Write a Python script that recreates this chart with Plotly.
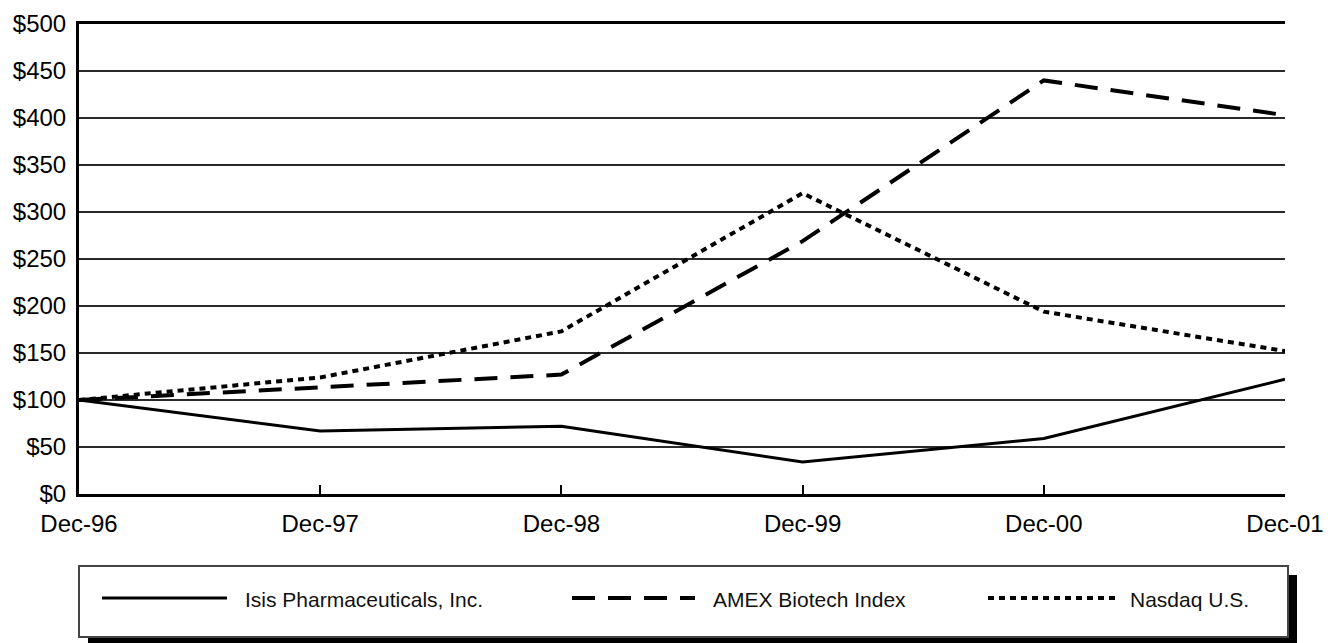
import plotly.graph_objects as go

# ---- data ----
dates = ["Dec-96", "Dec-97", "Dec-98", "Dec-99", "Dec-00", "Dec-01"]
isis = [100, 67, 72, 34, 59, 122]
amex = [100, 113, 127, 269, 440, 403]
nasdaq = [100, 124, 173, 320, 194, 152]
series_names = ["Isis Pharmaceuticals, Inc.", "AMEX Biotech Index", "Nasdaq U.S."]
y_tick_vals = [0, 50, 100, 150, 200, 250, 300, 350, 400, 450, 500]
y_tick_text = ["$0", "$50", "$100", "$150", "$200", "$250", "$300", "$350", "$400", "$450", "$500"]

# ---- style ----
W, H = 1335, 643
L, R, T, B = 79, 50, 24, 149
PW, PH = W - L - R, H - T - B
dashes = ["solid", "23px,13px", "6px,5px"]
widths = [3, 4, 4]
tick_font = dict(family="Liberation Sans, Arial, sans-serif", size=24, color="black")
leg_font = dict(family="Liberation Sans, Arial, sans-serif", size=21, color="#111")

fig = go.Figure()
for name, vals, d, w in zip(series_names, [isis, amex, nasdaq], dashes, widths):
    fig.add_trace(go.Scatter(x=dates, y=vals, mode="lines", name=name,
                             line=dict(color="black", width=w, dash=d),
                             showlegend=False))

def px_x(px):
    return (px - L) / PW

def px_y(py):
    return (H - B - py) / PH

shapes = []
# legend shadow
shapes.append(dict(type="rect", xref="paper", yref="paper",
                   x0=px_x(88), x1=px_x(1297), y0=px_y(575), y1=px_y(660),
                   fillcolor="black", line=dict(width=0), layer="above"))
# legend box
shapes.append(dict(type="rect", xref="paper", yref="paper",
                   x0=px_x(79), x1=px_x(1288), y0=px_y(566), y1=px_y(637),
                   fillcolor="white", line=dict(color="#444", width=2), layer="above"))
annotations = []
leg_lines = [(102, 227), (572, 695), (988, 1115)]
leg_text_x = [243, 711, 1128]
for (a, b), tx, name, d, w in zip(leg_lines, leg_text_x, series_names, dashes, widths):
    shapes.append(dict(type="line", xref="paper", yref="paper",
                       x0=px_x(a), x1=px_x(b), y0=px_y(598), y1=px_y(598),
                       line=dict(color="black", width=w, dash=d), layer="above"))
    annotations.append(dict(xref="paper", yref="paper", x=px_x(tx), y=px_y(599),
                            text=name, showarrow=False, xanchor="left", yanchor="middle",
                            font=leg_font))

fig.update_layout(
    width=W, height=H,
    margin=dict(l=L, r=R, t=T, b=B, pad=0),
    paper_bgcolor="white", plot_bgcolor="white",
    shapes=shapes, annotations=annotations,
    xaxis=dict(type="category", range=[0, 5], showgrid=False, zeroline=False,
               showline=True, linecolor="black", linewidth=3, mirror=True,
               ticks="inside", ticklen=9, tickwidth=2, tickcolor="black",
               tickfont=tick_font, ticklabelstandoff=6, automargin=False),
    yaxis=dict(range=[0, 500], tickvals=y_tick_vals, ticktext=y_tick_text,
               showgrid=True, gridcolor="#2a2a2a", gridwidth=2, zeroline=False,
               showline=True, linecolor="black", linewidth=3,
               ticks="", tickfont=tick_font, ticklabelstandoff=5, automargin=False),
)

fig.write_html("out.html", config={"displayModeBar": False},
               post_script="document.body.style.margin='0';")
